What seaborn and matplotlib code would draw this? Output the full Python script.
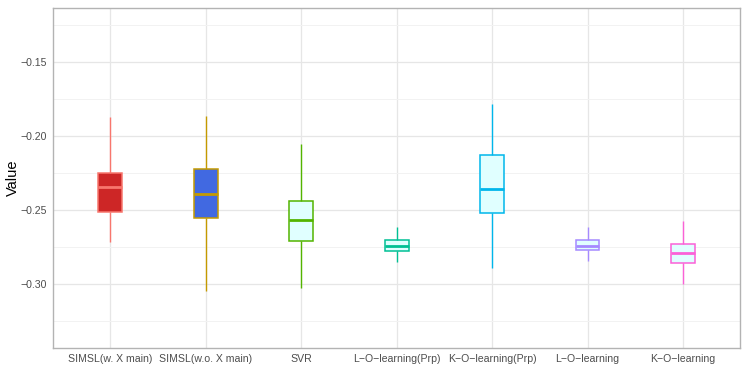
import numpy as np
import pandas as pd
import matplotlib.pyplot as plt
import seaborn as sns
from matplotlib.ticker import MultipleLocator

# methods on the x axis
methods = ['SIMSL(w. X main)', 'SIMSL(w.o. X main)', 'SVR', 'L\u2212O\u2212learning(Prp)',
           'K\u2212O\u2212learning(Prp)', 'L\u2212O\u2212learning', 'K\u2212O\u2212learning']
# five number summaries
whisker_low = [-0.2714, -0.3045, -0.3025, -0.2849, -0.2894, -0.2847, -0.3000]
q1 = [-0.2514, -0.2556, -0.2707, -0.2775, -0.2520, -0.2772, -0.2861]
median = [-0.2347, -0.2390, -0.2570, -0.2743, -0.2356, -0.2745, -0.2789]
q3 = [-0.2252, -0.2227, -0.2437, -0.2701, -0.2128, -0.2701, -0.2730]
whisker_high = [-0.1874, -0.1863, -0.2053, -0.2613, -0.1784, -0.2613, -0.2574]

edge_colors = ['#F8766D', '#C49A00', '#53B400', '#00C094', '#00B6EB', '#A58AFF', '#FB61D7']
fill_colors = ['#CD2626', '#4169E1', '#E0FFFF', '#E0FFFF', '#E0FFFF', '#E0FFFF', '#E0FFFF']

# five points per method -> quartiles land exactly on the summary values
rows = []
for i, m in enumerate(methods):
    for v in [whisker_low[i], q1[i], median[i], q3[i], whisker_high[i]]:
        rows.append({'Method': m, 'Value': v})
df = pd.DataFrame(rows)

sns.set_style('white')
plt.rcParams['font.family'] = ['Liberation Sans', 'DejaVu Sans']

fig, ax = plt.subplots(figsize=(7.47, 3.74), dpi=100)
fig.subplots_adjust(left=0.071, right=0.991, top=0.979, bottom=0.07)

sns.boxplot(data=df, x='Method', y='Value', hue='Method', order=methods, hue_order=methods,
            palette=fill_colors, whis=(0, 100), width=0.25, linewidth=0.9,
            showcaps=False, showfliers=False, legend=False, saturation=1, ax=ax)

# colour each box's outline, whiskers and median in its own colour
for i, cont in enumerate(ax.containers):
    col = edge_colors[i]
    for b in cont.boxes:
        b.set_edgecolor(col)
        b.set_linewidth(1.1)
    for w in cont.whiskers:
        w.set_color(col)
        w.set_linewidth(1.0)
    for md in cont.medians:
        md.set_color(col)
        md.set_linewidth(2.0)

ax.set_ylim(-0.3432, -0.1135)
ax.yaxis.set_major_locator(MultipleLocator(0.05))
ax.yaxis.set_minor_locator(MultipleLocator(0.025))
ax.yaxis.set_major_formatter(plt.FuncFormatter(lambda v, p: f'{v:.2f}'.replace('-', '\u2212')))
ax.set_xlim(-0.6, 6.6)

ax.grid(True, which='major', color='#E6E6E6', linewidth=0.9)
ax.grid(True, which='minor', axis='y', color='#F2F2F2', linewidth=0.7)
ax.set_axisbelow(True)
for s in ax.spines.values():
    s.set_visible(True)
    s.set_color('#B3B3B3')
    s.set_linewidth(1.0)

ax.tick_params(axis='both', which='major', length=2.5, color='#B3B3B3', labelsize=7.6,
               labelcolor='#4D4D4D', pad=2)
ax.tick_params(axis='y', which='minor', length=0)
ax.set_xlabel('')
ax.set_ylabel('Value', fontsize=10.5, color='black', labelpad=0)

fig.savefig('out.png', dpi=100)
